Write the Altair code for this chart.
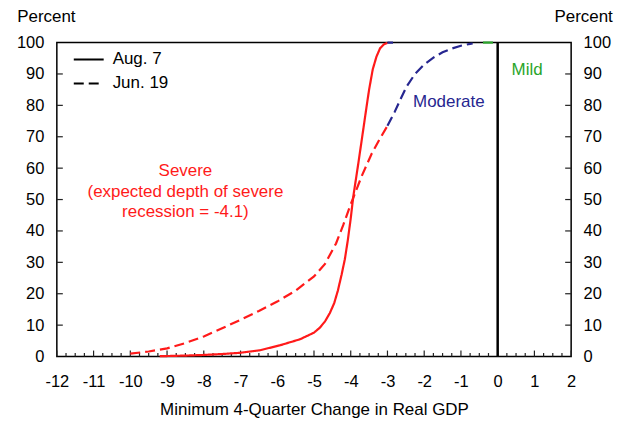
import altair as alt
import pandas as pd

FONT = "Liberation Sans"
RED = "#ff1a1a"
NAVY = "#262690"
GREEN = "#2aa52a"

# ---- data ----
# Aug. 7 (solid), severe part
aug_sev_x = [-9.2, -8.5, -8.0, -7.5, -7.0, -6.47, -5.92, -5.38, -5.0, -4.84, -4.7,
             -4.57, -4.45, -4.35, -4.25, -4.16, -4.08, -4.0, -3.93, -3.8, -3.7,
             -3.57, -3.5, -3.4, -3.3, -3.2, -3.1, -3.0]
aug_sev_y = [0.1, 0.3, 0.5, 0.8, 1.2, 2.0, 3.6, 5.5, 7.6, 9.2, 11.2,
             13.8, 17.0, 21.0, 26.0, 31.0, 37.0, 44.0, 51.0, 61.0, 69.0,
             79.5, 85.0, 91.5, 95.5, 98.2, 99.4, 99.9]
# Aug. 7 (solid), moderate part
aug_mod_x = [-3.0, -2.85]
aug_mod_y = [100.0, 100.0]

# Jun. 19 (dashed), severe part
jun_sev_x = [-10.0, -9.5, -9.0, -8.5, -8.0, -7.5, -7.0, -6.5, -6.0, -5.5, -5.0,
             -4.7, -4.4, -4.2, -4.0, -3.9, -3.7, -3.43, -3.2, -3.0]
jun_sev_y = [0.9, 1.6, 2.6, 4.3, 6.4, 9.0, 11.7, 14.5, 17.5, 21.0, 25.5,
             29.5, 36.0, 42.0, 48.5, 51.5, 57.5, 64.6, 69.5, 73.5]
# Jun. 19 (dashed), moderate part
jun_mod_x = [-3.0, -2.8, -2.66, -2.48, -2.25, -2.0, -1.75, -1.5, -1.25, -1.0, -0.75, -0.68]
jun_mod_y = [73.5, 78.0, 81.6, 86.0, 90.0, 93.0, 95.2, 96.9, 98.1, 99.0, 99.6, 99.7]
# Jun. 19 (dashed), mild part
jun_mild_x = [-0.4, 0.0]
jun_mild_y = [100.0, 100.0]

releases = ["Aug. 7", "Jun. 19"]
regimes = ["Severe", "Moderate", "Mild"]

x_ticks = list(range(-12, 3))
y_ticks = list(range(0, 101, 10))

annotations = ["Severe", "(expected depth of severe", "recession = -4.1)", "Moderate", "Mild"]
ann_regime = ["Severe", "Severe", "Severe", "Moderate", "Mild"]
ann_x = [-8.5, -8.5, -8.5, -1.33, 0.8]
ann_y = [59.0, 52.5, 46.0, 81.0, 91.4]

# ---- tables ----
parts = [
    (aug_sev_x, aug_sev_y, "Aug. 7", "Severe"),
    (aug_mod_x, aug_mod_y, "Aug. 7", "Moderate"),
    (jun_sev_x, jun_sev_y, "Jun. 19", "Severe"),
    (jun_mod_x, jun_mod_y, "Jun. 19", "Moderate"),
    (jun_mild_x, jun_mild_y, "Jun. 19", "Mild"),
]
rows = []
for xs, ys, rel, reg in parts:
    for i, (a, b) in enumerate(zip(xs, ys)):
        rows.append({"x": a, "y": b, "release": rel, "regime": reg,
                     "seg": rel + "-" + reg, "order": i})
lines_df = pd.DataFrame(rows)

ann_df = pd.DataFrame({"text": annotations, "regime": ann_regime, "x": ann_x, "y": ann_y})
major_df = pd.DataFrame({"x": x_ticks})
minor_df = pd.DataFrame({"x": [t + q for t in x_ticks[:-1] for q in (0.25, 0.5, 0.75)]})
yt_df = pd.DataFrame({"y": y_ticks[1:-1]})
zero_df = pd.DataFrame({"x": [0], "y0": [0], "y1": [100]})

W, H = 516, 315
xscale = alt.Scale(domain=[-12, 2], nice=False, zero=False)
yscale = alt.Scale(domain=[0, 100], nice=False)
color_scale = alt.Scale(domain=regimes, range=[RED, NAVY, GREEN])

xaxis = alt.Axis(values=x_ticks, title="Minimum 4-Quarter Change in Real GDP",
                 labelExpr="replace(datum.label, '\u2212', '-')", labelFlush=False,
                 labelPadding=17, titlePadding=12)


def X(field):
    return alt.X(field, type="quantitative", scale=xscale, axis=xaxis)


lines = alt.Chart(lines_df).mark_line(strokeWidth=2.2).encode(
    x=X("x"),
    y=alt.Y("y:Q", scale=yscale,
            axis=alt.Axis(values=y_ticks, orient="left", title="Percent", titleAngle=0,
                          titleX=-11, titleY=-26, titleAlign="center", labelFlush=False,
                          titleBaseline="middle", labelPadding=13)),
    color=alt.Color("regime:N", scale=color_scale, legend=None),
    strokeDash=alt.StrokeDash(
        "release:N",
        scale=alt.Scale(domain=releases, range=[[1, 0], [10, 5]]),
        legend=alt.Legend(title=None, orient="none", legendX=16, legendY=1,
                          symbolType="stroke", symbolSize=900, symbolStrokeColor="black",
                          symbolStrokeWidth=2, labelFont=FONT, labelFontSize=17,
                          labelColor="black", labelOffset=8, rowPadding=0, padding=0),
    ),
    detail="seg:N",
    order="order:Q",
)

zero_line = alt.Chart(zero_df).mark_rule(color="black", strokeWidth=2.5).encode(
    x=X("x"),
    y=alt.Y("y0:Q", scale=yscale, axis=None),
    y2="y1:Q",
)

major = alt.Chart(major_df).mark_rule(color="#222", strokeWidth=1.2).encode(
    x=X("x"), y=alt.value(H), y2=alt.value(H - 6)
)
minor = alt.Chart(minor_df).mark_rule(color="#222", strokeWidth=1.2).encode(
    x=X("x"), y=alt.value(H), y2=alt.value(H - 3.5)
)
left_ticks = alt.Chart(yt_df).mark_rule(color="#222", strokeWidth=1.2).encode(
    y=alt.Y("y:Q", scale=yscale, axis=None), x=alt.value(0), x2=alt.value(6)
)
right_ticks = alt.Chart(yt_df).mark_rule(color="#222", strokeWidth=1.2).encode(
    y=alt.Y("y:Q", scale=yscale,
            axis=alt.Axis(values=y_ticks, orient="right", title="Percent", titleAngle=0,
                          titleX=12, titleY=-26, titleAlign="center", labelFlush=False,
                          titleBaseline="middle", labelPadding=12)),
    x=alt.value(W), x2=alt.value(W - 6)
)

labels = alt.Chart(ann_df).mark_text(font=FONT, fontSize=17, align="center",
                                      baseline="middle").encode(
    x=X("x"),
    y=alt.Y("y:Q", scale=yscale, axis=None),
    text="text:N",
    color=alt.Color("regime:N", scale=color_scale, legend=None),
)

chart = alt.layer(
    major, minor, left_ticks, right_ticks, zero_line, lines, labels
).resolve_axis(y="independent").properties(
    width=W, height=H,
    autosize=alt.AutoSizeParams(type="none"),
    padding={"left": 49, "top": 34, "right": 45, "bottom": 62},
).configure_view(
    stroke="black", strokeWidth=1.5
).configure_axis(
    labelFont=FONT, labelFontSize=16.5, labelColor="black",
    titleFont=FONT, titleFontSize=17, titleFontWeight="normal", titleColor="black",
    ticks=False, domain=False, grid=False,
)

chart.save("out.html", embed_options={"renderer": "svg", "actions": False})
